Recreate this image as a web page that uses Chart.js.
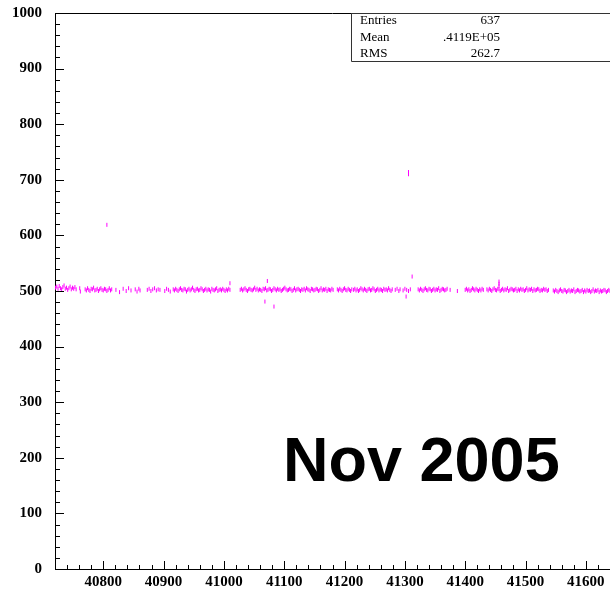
<!DOCTYPE html>
<html>
<head>
<meta charset="utf-8">
<script src="https://cdn.jsdelivr.net/npm/chart.js@4/dist/chart.umd.min.js"></script>
<style>
  body { margin: 0; background: #fff; }
  #wrap { width: 610px; height: 590px; position: relative; }
</style>
</head>
<body>
<div id="wrap"><canvas id="rateChart"></canvas></div>
<script>
// Run number vs. rate, one mark per run.
const runs = [
  40721,40723,40725,40727,40729,40731,40733,40735,40737,40739,40741,40743,40745,40747,40749,40751,40753,40755,
  40761,40762,40770,40772,40774,40776,40778,40780,40782,40784,40786,40788,40790,40792,40794,40796,40798,40800,40802,40804,40806,40808,40810,40812,40814,
  40821,40827,40833,40838,40842,40846,
  40853,40856,40859,40861,
  40873,40876,40879,40882,40885,40888,40891,40894,
  40902,40905,40908,40911,
  40916,40918,40920,40922,40924,40926,40928,40930,40932,40934,40936,40938,40940,40942,40944,40946,40948,40950,40952,40954,40956,40958,40960,40962,40964,40966,40968,40970,40972,40974,40976,40978,40980,40982,40984,40986,40988,40990,40992,40994,40996,40998,41000,41002,41004,41006,41008,41010,
  41027,41029,41031,41033,41035,41037,41039,41041,41043,41045,41047,41049,41051,41053,41055,41057,41059,41061,41063,41065,41067,41069,41071,41073,41075,41077,41079,41081,41083,41085,41087,41089,41091,41093,41095,41097,41099,41101,41103,41105,
  41107,41109,41111,41113,41115,41117,41119,41121,41123,41125,41127,41129,41131,41133,41135,41137,41139,41141,41143,41145,41147,41149,41151,41153,41155,41157,41159,41161,41163,41165,41167,41169,41171,41173,41175,41177,41179,41181,
  41188,41190,41192,41194,41196,41198,41200,41202,41204,41206,41208,41210,41212,
  41215,41217,41219,41221,41223,41225,41227,41229,41231,41233,41235,41237,41239,41241,41243,41245,41247,41249,41251,41253,41255,41257,41259,41261,41263,41265,41267,41269,41271,41273,41275,41277,41279,
  41284,41287,41290,41292,
  41297,41300,41303,41306,41309,
  41322,41324,41326,41328,41330,41332,41334,41336,41338,41340,41342,41344,41346,41348,41350,41352,41354,41356,41358,41360,41362,41364,41366,41368,41370,
  41375,41387,
  41400,41402,41404,41406,41408,41410,41412,41414,41416,41418,41420,41422,41424,41426,41428,41430,
  41436,41438,41440,41442,41444,41446,41448,41450,41452,41454,41456,41458,41460,41462,41464,41466,41468,41470,41472,41474,41476,41478,41480,41482,41484,41486,41488,41490,41492,41494,41496,41498,41500,41502,41504,41506,41508,41510,41512,41514,41516,41518,41520,41522,41524,41526,41528,41530,41532,41534,41536,41538,
  41546,41548,41550,41552,41554,41556,41558,41560,41562,41564,41566,41568,41570,41572,41574,41576,41578,41580,41582,41584,41586,41588,41590,41592,41594,41596,41598,41600,41602,41604,41606,41608,41610,41612,41614,41616,41618,41620,41622,41624,41626,41628,41630,41632,41634,41636,41638,41640
];
const rates = [
  506,508,504,509,505,503,507,510,504,506,502,505,508,503,506,504,507,503,
  505,499,503,501,505,502,500,504,503,506,501,502,504,500,503,505,502,501,504,503,500,502,505,501,503,
  502,498,504,500,505,501,
  503,499,504,501,
  502,504,500,503,505,501,503,502,
  500,504,502,499,
  503,501,504,502,500,503,505,502,501,504,503,499,502,504,501,503,506,502,500,503,504,501,502,505,503,500,502,504,501,503,502,499,504,502,501,503,505,500,502,503,501,504,502,500,503,501,504,502,
  502,504,501,503,505,502,500,503,504,502,501,503,506,502,504,501,503,502,500,504,503,505,501,502,504,503,500,502,505,503,501,504,502,503,500,502,504,506,503,501,
  502,504,503,500,502,505,501,503,504,502,500,503,502,504,501,505,503,502,500,504,503,501,502,504,503,500,502,505,501,503,502,504,500,503,502,501,504,502,
  503,501,504,502,500,503,505,502,501,504,502,500,503,
  502,504,501,503,500,502,505,503,501,504,502,500,503,504,501,502,505,503,500,502,504,501,503,502,500,504,502,503,501,505,502,500,503,
  502,504,500,503,
  501,504,502,500,503,
  503,501,504,502,500,503,505,502,501,504,503,500,502,504,501,503,502,505,500,502,504,503,501,502,504,
  502,500,
  502,504,501,503,500,502,505,503,501,504,502,500,503,501,504,502,
  503,501,504,502,500,503,505,502,501,504,503,500,502,504,501,503,502,505,500,502,504,503,501,502,504,500,503,501,504,502,503,500,502,505,501,503,502,504,500,503,501,502,504,503,500,502,501,504,502,503,500,502,
  501,499,502,500,498,501,503,500,499,502,501,498,500,502,499,501,500,503,498,500,502,501,499,500,502,498,501,499,502,500,501,498,500,503,499,501,500,502,498,501,499,500,502,501,498,500,502,500
];

// isolated runs off the main band
const outlierRuns = [40806, 41010, 41068, 41072, 41083, 41302, 41306, 41306, 41312, 41456, 41456, 41456];
const outlierRates = [619, 514, 481, 518, 472, 490, 710, 714, 526, 509, 513, 517];

const xTickValues = [40800, 40900, 41000, 41100, 41200, 41300, 41400, 41500, 41600];
const yTickValues = [0, 100, 200, 300, 400, 500, 600, 700, 800, 900, 1000];
const statLabels = ['Entries', 'Mean', 'RMS'];
const statValues = ['637', '.4119E+05', '262.7'];
const periodLabel = 'Nov 2005';

const X_MIN = 40720, X_MAX = 41640;
const Y_MIN = 0, Y_MAX = 1000;
const markColor = '#ff00ff';
const axisFont = { family: "'Liberation Serif', 'DejaVu Serif', serif", size: 15, weight: 'bold' };

function toPoints(xs, ys) {
    var pts = [];
    for (let i = 0; i < xs.length && i < ys.length; i++) {
        pts.push({ x: xs[i], y: ys[i] });
    }
    return pts;
}

// ROOT style frame: inward ticks, top border line, stats box and period label
const frameDecor = {
    id: 'frameDecor',
    afterDraw(chart) {
        const ctx = chart.ctx;
        const area = chart.chartArea;
        const xs = chart.scales.x;
        const ys = chart.scales.y;
        ctx.save();
        ctx.strokeStyle = '#000';
        ctx.lineWidth = 1;
        ctx.beginPath();
        ctx.moveTo(area.left, area.top + 0.5);
        ctx.lineTo(area.right, area.top + 0.5);
        // y ticks, minor every 20
        for (let v = Y_MIN; v <= Y_MAX; v += 20) {
            const py = Math.round(ys.getPixelForValue(v)) + 0.5;
            const len = v % 100 === 0 ? 9 : 5;
            ctx.moveTo(area.left, py);
            ctx.lineTo(area.left + len, py);
        }
        // x ticks, minor every 20
        for (let v = X_MIN; v <= X_MAX; v += 20) {
            const px = Math.round(xs.getPixelForValue(v)) + 0.5;
            const len = v % 100 === 0 ? 8 : 4;
            ctx.moveTo(px, area.bottom);
            ctx.lineTo(px, area.bottom - len);
        }
        ctx.stroke();

        // stats box
        const bx = 351, by = area.top, bw = chart.width - bx, bh = 48;
        ctx.fillStyle = '#fff';
        ctx.fillRect(bx, by, bw, bh);
        ctx.strokeStyle = '#333';
        ctx.beginPath();
        ctx.moveTo(bx + 0.5, by);
        ctx.lineTo(bx + 0.5, by + bh + 0.5);
        ctx.lineTo(chart.width, by + bh + 0.5);
        ctx.moveTo(bx, by + 0.5);
        ctx.lineTo(chart.width, by + 0.5);
        ctx.stroke();
        ctx.fillStyle = '#000';
        ctx.font = "13px 'Liberation Serif', 'DejaVu Serif', serif";
        ctx.textBaseline = 'middle';
        const rowY = [21, 37.5, 53.5];
        for (let i = 0; i < statLabels.length; i++) {
            ctx.textAlign = 'left';
            ctx.fillText(statLabels[i], 360, rowY[i]);
            ctx.textAlign = 'right';
            ctx.fillText(statValues[i], 500, rowY[i]);
        }

        // period label
        ctx.font = "bold 63px 'Liberation Sans', Arial, sans-serif";
        ctx.textAlign = 'left';
        ctx.textBaseline = 'alphabetic';
        ctx.fillText(periodLabel, 283, 481);
        ctx.restore();
    }
};

const config = {
    type: 'scatter',
    data: {
        datasets: [{
            label: 'rate',
            data: toPoints(runs, rates),
            pointStyle: 'line',
            rotation: 90,
            radius: 2,
            borderWidth: 1,
            borderColor: markColor,
            backgroundColor: markColor
        }, {
            label: 'outliers',
            data: toPoints(outlierRuns, outlierRates),
            pointStyle: 'line',
            rotation: 90,
            radius: 2,
            borderWidth: 1,
            borderColor: markColor,
            backgroundColor: markColor
        }]
    },
    options: {
        responsive: true,
        maintainAspectRatio: false,
        animation: false,
        events: [],
        layout: { autoPadding: false, padding: { top: 13, right: 0, left: 0, bottom: 0 } },
        plugins: {
            legend: { display: false },
            tooltip: { enabled: false }
        },
        scales: {
            x: {
                type: 'linear',
                min: X_MIN,
                max: X_MAX,
                afterBuildTicks: function(scale) {
                    scale.ticks = xTickValues.map(v => ({ value: v }));
                },
                afterFit: function(scale) {
                    scale.height = 21;
                    scale.paddingLeft = 0;
                    scale.paddingRight = 0;
                },
                grid: { display: false, drawTicks: false },
                border: { display: true, color: '#000', width: 1 },
                ticks: {
                    color: '#000',
                    font: axisFont,
                    padding: 4,
                    maxRotation: 0,
                    autoSkip: false,
                    callback: v => String(v)
                }
            },
            y: {
                type: 'linear',
                min: Y_MIN,
                max: Y_MAX,
                afterBuildTicks: function(scale) {
                    scale.ticks = yTickValues.map(v => ({ value: v }));
                },
                afterFit: function(scale) {
                    scale.width = 55;
                    scale.paddingTop = 0;
                    scale.paddingBottom = 0;
                },
                grid: { display: false, drawTicks: false },
                border: { display: true, color: '#000', width: 1 },
                ticks: {
                    color: '#000',
                    font: axisFont,
                    padding: 13,
                    autoSkip: false,
                    callback: v => String(v)
                }
            }
        }
    },
    plugins: [frameDecor]
};

new Chart(document.getElementById('rateChart'), config);
</script>
</body>
</html>
